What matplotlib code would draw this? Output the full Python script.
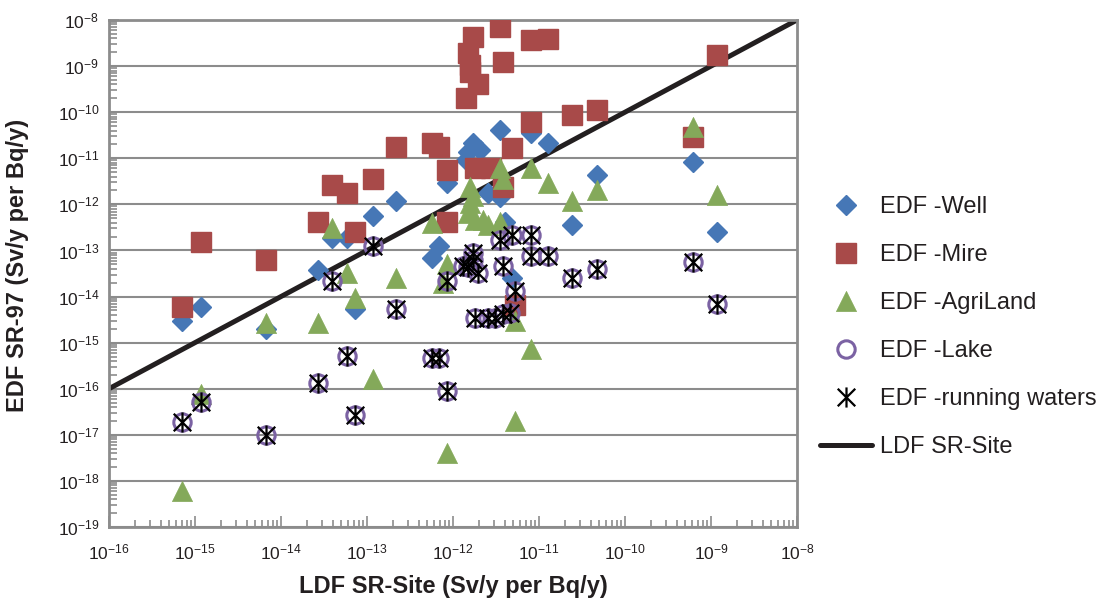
import numpy as np
import matplotlib
matplotlib.use("Agg")
import matplotlib.pyplot as plt
from matplotlib.path import Path
from matplotlib.ticker import LogLocator, LogFormatterMathtext, NullFormatter

plt.rcParams['font.family'] = ['Liberation Sans', 'DejaVu Sans']
plt.rcParams['mathtext.fontset'] = 'custom'
plt.rcParams['mathtext.rm'] = 'Liberation Sans'
plt.rcParams['mathtext.it'] = 'Liberation Sans:italic'
plt.rcParams['mathtext.bf'] = 'Liberation Sans:bold'

# EDF SR-97 vs LDF SR-Site (Sv/y per Bq/y)
well_x = [7.1e-16, 1.17e-15, 6.7e-15, 2.7e-14, 3.9e-14, 5.8e-14, 7.2e-14, 1.17e-13,
          2.2e-13, 5.7e-13, 6.9e-13, 8.5e-13, 1.49e-12, 1.69e-12, 1.42e-12, 2.06e-12,
          2.55e-12, 3.52e-12, 3.52e-12, 8.0e-12, 1.27e-11, 4.7e-11, 2.45e-11, 6.2e-10,
          1.17e-9, 4.9e-12, 4.03e-12]
well_y = [3.0e-15, 5.8e-15, 2.0e-15, 3.7e-14, 1.87e-13, 1.87e-13, 5.3e-15, 5.5e-13,
          1.19e-12, 6.7e-14, 1.28e-13, 2.9e-12, 1.35e-11, 2.17e-11, 9.1e-12, 1.49e-11,
          1.78e-12, 4.1e-11, 1.46e-12, 3.5e-11, 2.17e-11, 4.3e-12, 3.5e-13, 8.2e-12,
          2.5e-13, 2.5e-14, 4.2e-13]

mire_x = [7.1e-16, 1.17e-15, 6.7e-15, 2.7e-14, 3.9e-14, 5.8e-14, 7.2e-14, 1.17e-13,
          2.2e-13, 5.7e-13, 6.9e-13, 8.5e-13, 8.5e-13, 1.69e-12, 3.52e-12, 1.49e-12,
          1.58e-12, 1.58e-12, 1.95e-12, 1.42e-12, 3.77e-12, 8.0e-12, 1.27e-11, 8.0e-12,
          2.45e-11, 4.7e-11, 4.9e-12, 1.8e-12, 2.77e-12, 3.77e-12, 5.3e-12, 6.2e-10,
          1.17e-9]
mire_y = [5.8e-15, 1.49e-13, 6.1e-14, 4.2e-13, 2.65e-12, 1.78e-12, 2.5e-13, 3.6e-12,
          1.78e-11, 2.17e-11, 1.8e-11, 5.5e-12, 4.2e-13, 4.3e-9, 7.0e-9, 1.92e-9,
          1.05e-9, 7.4e-10, 4.1e-10, 2.0e-10, 1.22e-9, 3.7e-9, 3.9e-9, 6.1e-11,
          8.6e-11, 1.1e-10, 1.65e-11, 6.1e-12, 6.1e-12, 2.34e-12, 6.4e-15, 2.9e-11,
          1.73e-9]

agri_x = [7.1e-16, 1.17e-15, 6.7e-15, 2.7e-14, 3.9e-14, 5.8e-14, 7.2e-14, 1.17e-13,
          2.2e-13, 5.7e-13, 7.7e-13, 8.5e-13, 8.5e-13, 1.49e-12, 1.58e-12, 1.58e-12,
          1.69e-12, 1.8e-12, 2.23e-12, 2.55e-12, 3.52e-12, 3.77e-12, 3.52e-12, 8.0e-12,
          1.27e-11, 2.45e-11, 4.7e-11, 6.2e-10, 1.17e-9, 5.3e-12, 8.0e-12, 5.3e-12]
agri_y = [6.1e-19, 7.8e-17, 2.65e-15, 2.65e-15, 3.0e-13, 3.2e-14, 9.5e-15, 1.65e-16,
          2.5e-14, 3.9e-13, 1.92e-14, 5.2e-14, 4.0e-18, 6.4e-13, 2.34e-12, 1.05e-12,
          1.5e-12, 4.5e-13, 4.5e-13, 3.5e-13, 6.1e-12, 3.6e-12, 4.2e-13, 6.1e-12,
          2.9e-12, 1.19e-12, 2.0e-12, 4.7e-11, 1.57e-12, 3.0e-15, 7.4e-16, 2.0e-17]

lake_x = [7.1e-16, 1.17e-15, 6.7e-15, 2.7e-14, 3.9e-14, 5.8e-14, 7.2e-14, 1.17e-13,
          2.2e-13, 5.7e-13, 6.9e-13, 8.5e-13, 8.5e-13, 1.69e-12, 1.31e-12, 1.49e-12,
          1.95e-12, 1.69e-12, 3.52e-12, 4.9e-12, 8.0e-12, 3.77e-12, 8.0e-12, 1.27e-11,
          5.3e-12, 2.45e-11, 4.7e-11, 6.2e-10, 1.17e-9, 1.8e-12, 2.55e-12, 3.08e-12,
          3.77e-12, 4.6e-12]
lake_y = [1.92e-17, 5.2e-17, 1.0e-17, 1.35e-16, 2.2e-14, 5.2e-16, 2.7e-17, 1.28e-13,
          5.3e-15, 4.6e-16, 4.6e-16, 9.1e-17, 2.2e-14, 8.6e-14, 4.7e-14, 4.3e-14,
          3.2e-14, 6.1e-14, 1.65e-13, 2.12e-13, 2.12e-13, 4.7e-14, 7.4e-14, 7.4e-14,
          1.35e-14, 2.5e-14, 3.9e-14, 5.5e-14, 7.0e-15, 3.4e-15, 3.4e-15, 3.4e-15,
          4.2e-15, 4.5e-15]

# running waters coincide with the lake results
run_x = list(lake_x)
run_y = list(lake_y)

ldf_x = [1e-16, 1e-8]
ldf_y = [1e-16, 1e-8]

c_well = '#4677b6'
c_mire = '#a84a49'
c_agri = '#84a95a'
c_lake = '#7b62a3'
c_line = '#231f20'
c_grid = '#8c8c8c'

# asterisk = X plus a vertical bar
star = Path([(-1, -1), (1, 1), (-1, 1), (1, -1), (0, -1.15), (0, 1.15)],
            [Path.MOVETO, Path.LINETO, Path.MOVETO, Path.LINETO, Path.MOVETO, Path.LINETO])
tri = Path([(-1, -1), (1, -1), (0, 1), (-1, -1)],
           [Path.MOVETO, Path.LINETO, Path.LINETO, Path.CLOSEPOLY])

fig = plt.figure(figsize=(11.04, 6.08), dpi=100)
ax = fig.add_axes([109/1104, 81/608, 688/1104, 507/608])

line, = ax.plot(ldf_x, ldf_y, color=c_line, lw=3.6, solid_capstyle='round',
                zorder=2, label='LDF SR-Site')
h_well, = ax.plot(well_x, well_y, ls='none', marker='D', ms=10, color=c_well,
                  mec=c_well, zorder=3, label='EDF -Well')
h_mire, = ax.plot(mire_x, mire_y, ls='none', marker='s', ms=14, color=c_mire,
                  mec=c_mire, zorder=4, label='EDF -Mire')
h_agri, = ax.plot(agri_x, agri_y, ls='none', marker=tri, ms=14.5, color=c_agri,
                  mec=c_agri, mew=0.5, zorder=5, label='EDF -AgriLand')
h_lake, = ax.plot(lake_x, lake_y, ls='none', marker='o', ms=12.5, mfc='none',
                  mec=c_lake, mew=2.2, zorder=6, label='EDF -Lake')
h_run, = ax.plot(run_x, run_y, ls='none', marker=star, ms=14.5, mfc='none',
                 mec='black', mew=1.6, zorder=7, label='EDF -running waters')

ax.set_xscale('log')
ax.set_yscale('log')
ax.set_xlim(1e-16, 1e-8)
ax.set_ylim(1e-19, 1e-8)

for axis in (ax.xaxis, ax.yaxis):
    axis.set_major_locator(LogLocator(base=10, numticks=100))
    axis.set_minor_locator(LogLocator(base=10, subs=np.arange(2, 10), numticks=100))
    axis.set_major_formatter(LogFormatterMathtext())
    axis.set_minor_formatter(NullFormatter())

ax.tick_params(which='both', direction='in', color=c_grid, width=1.2,
               labelsize=12.5, labelcolor=c_line)
ax.tick_params(axis='x', which='major', length=8, pad=11)
ax.tick_params(axis='x', which='minor', length=5)
ax.tick_params(axis='y', which='major', length=7, pad=7)
ax.tick_params(axis='y', which='minor', length=6)

ax.yaxis.grid(True, which='major', color=c_grid, lw=1.5)
ax.set_axisbelow(True)
for s in ax.spines.values():
    s.set_color(c_grid)
    s.set_linewidth(2)

ax.set_xlabel('LDF SR-Site (Sv/y per Bq/y)', fontsize=17, fontweight='bold',
              color=c_line, labelpad=9)
fig.text(18/1104, 1 - 265/608, 'EDF SR-97 (Sv/y per Bq/y)', rotation=90,
         fontsize=17, fontweight='bold', color=c_line, ha='center', va='center')

fig.legend(handles=[h_well, h_mire, h_agri, h_lake, h_run, line],
           loc='upper left', bbox_to_anchor=(820/1104, 1 - 196/608),
           frameon=False, fontsize=17, borderpad=0, borderaxespad=0,
           handlelength=2.2, handletextpad=0.35, labelspacing=1.1,
           labelcolor=c_line)

fig.savefig('out.png', dpi=100)
